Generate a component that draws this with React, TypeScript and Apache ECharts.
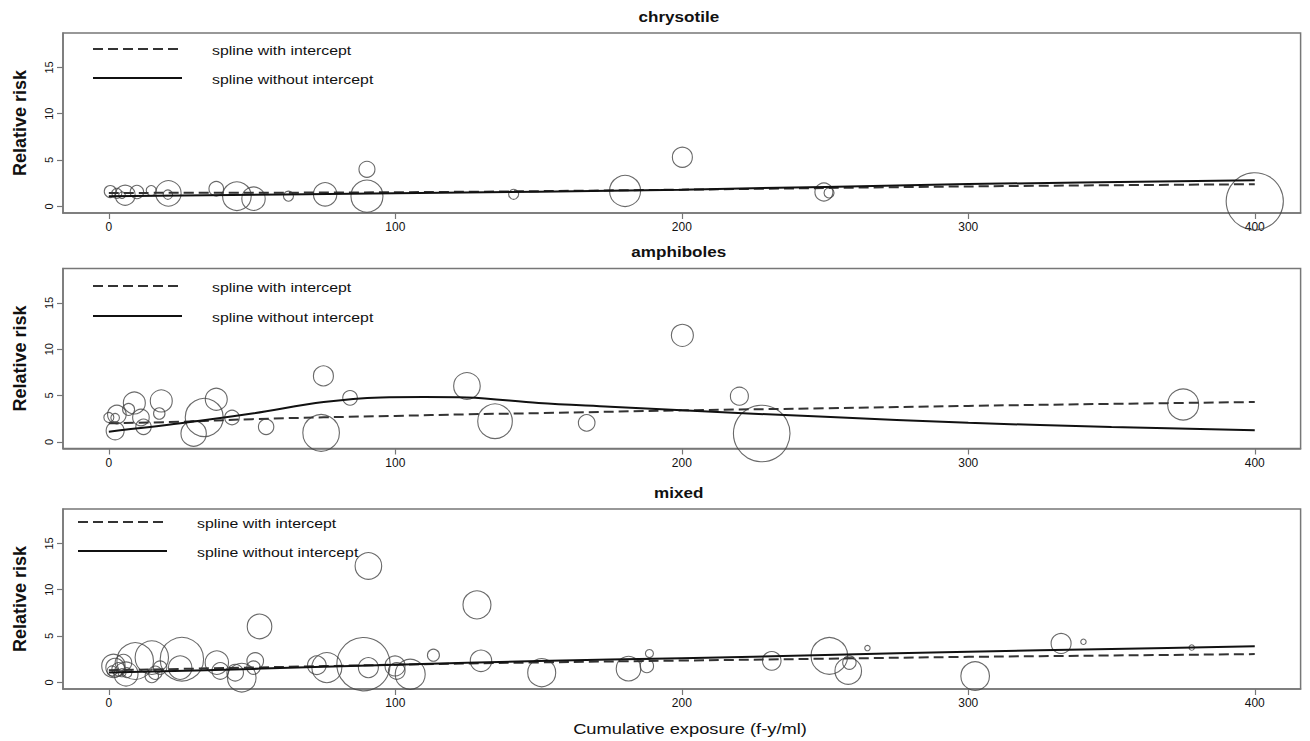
import React, { useEffect, useRef } from "react";
import * as echarts from "echarts";

const panelTitles = ["chrysotile", "amphiboles", "mixed"];
const xTicks = [0, 100, 200, 300, 400];
const yTicks = [0, 5, 10, 15];
const legendLabels = ["spline with intercept", "spline without intercept"];
const xAxisTitle = "Cumulative exposure (f-y/ml)";
const yAxisTitle = "Relative risk";

// study bubbles: [cumulative exposure, relative risk, circle radius (study weight)]
const chrysotileStudies = [
  [0.5, 1.6, 6], [2.8, 1.4, 5], [4.6, 1.2, 3.3], [5.7, 1.2, 10], [9.8, 1.55, 6.7],
  [14.8, 1.7, 5], [20.8, 1.4, 12.7], [20.6, 1.27, 4.7], [37.5, 1.9, 7.3], [44.7, 1.1, 14.3],
  [50.5, 0.83, 11.7], [62.7, 1.1, 5], [75.5, 1.3, 11.7], [90.1, 4.0, 8], [90.1, 1.1, 16],
  [141.3, 1.3, 5], [180.2, 1.66, 15.5], [200.2, 5.3, 10], [249.6, 1.55, 9], [251.4, 1.45, 5],
  [400, 0.54, 28.6],
];
const amphiboleStudies = [
  [0, 2.63, 5], [2.8, 2.95, 9.3], [2.2, 2.6, 4.3], [2.2, 1.19, 9], [6.9, 3.5, 6],
  [8.9, 4.2, 11], [11.2, 2.63, 8.3], [12.1, 1.62, 7.7], [17.6, 3.06, 5.7], [18.3, 4.42, 11],
  [29.6, 0.9, 12.7], [33.3, 2.63, 19], [37.5, 4.6, 11], [43, 2.63, 7.3], [54.9, 1.62, 7.7],
  [74.1, 0.97, 18.3], [74.9, 7.12, 10], [84.2, 4.75, 7.3], [125, 6.04, 13.3], [134.8, 2.23, 17.3],
  [166.8, 2.05, 8.3], [200.2, 11.5, 11], [220.1, 4.93, 9], [227.9, 0.9, 28.3], [375, 4.03, 15.5],
];
const mixedStudies = [
  [1.6, 1.77, 11.7], [2.2, 1.59, 9.3], [1.1, 1.23, 5], [3.4, 1.41, 6.7], [4.6, 1.04, 4],
  [5.1, 2.13, 8.3], [6.3, 1.04, 5], [6, 0.9, 12], [9.2, 2.3, 18.3], [15.0, 2.67, 16.7],
  [16.2, 1.04, 6.7], [17.9, 1.59, 6.7], [15, 0.68, 6.7], [25.5, 2.5, 21.7], [24.9, 1.59, 11.7],
  [37.7, 2.13, 11.7], [38.9, 1.23, 8.3], [44.1, 1.04, 8.3], [46.4, 0.5, 14.3], [51.1, 2.3, 8.3],
  [50.5, 1.59, 6.7], [52.6, 6.04, 12.3], [72.6, 1.85, 9.3], [76.1, 1.59, 15], [88.9, 1.96, 26.7],
  [90.6, 1.59, 10], [90.6, 12.57, 13.3], [99.9, 1.77, 10], [100.5, 1.23, 8.3], [105.2, 0.87, 15],
  [113.3, 2.93, 6], [128.5, 8.37, 14], [129.9, 2.32, 10.7], [151.1, 1.04, 14], [181.4, 1.48, 12.3],
  [187.8, 1.77, 6.7], [188.7, 3.11, 4], [231.4, 2.32, 9.3], [251.5, 2.86, 18.3], [258.1, 1.23, 13.3],
  [258.5, 2.13, 6.7], [264.8, 3.7, 2.7], [302.4, 0.68, 14.3], [332.4, 4.2, 10], [340.2, 4.38, 2.7],
  [378, 3.76, 2.7],
];

// spline fits: [cumulative exposure, relative risk]
const chrysotileWithIntercept = [[0, 1.45], [100, 1.52], [200, 1.8], [300, 2.15], [400, 2.39]];
const chrysotileWithoutIntercept = [[0, 1.1], [100, 1.4], [200, 1.8], [300, 2.4], [400, 2.83]];
const amphiboleWithIntercept = [
  [0, 2.0], [25, 2.17], [50, 2.45], [75, 2.65], [100, 2.8], [125, 2.97], [150, 3.1],
  [200, 3.4], [250, 3.62], [300, 3.88], [350, 4.1], [400, 4.3],
];
const amphiboleWithoutIntercept = [
  [0, 1.1], [25, 2.0], [50, 3.05], [75, 4.3], [95, 4.8], [110, 4.85], [125, 4.8], [150, 4.2],
  [175, 3.8], [200, 3.4], [250, 2.7], [300, 2.05], [350, 1.6], [400, 1.26],
];
const mixedWithIntercept = [
  [0, 1.3], [50, 1.6], [100, 1.9], [150, 2.15], [200, 2.35], [250, 2.55], [300, 2.75], [350, 2.9], [400, 3.05],
];
const mixedWithoutIntercept = [
  [0, 1.05], [50, 1.45], [100, 1.9], [150, 2.3], [200, 2.6], [250, 2.95], [300, 3.3], [350, 3.6], [400, 3.9],
];

const studies = [chrysotileStudies, amphiboleStudies, mixedStudies];
const withIntercept = [chrysotileWithIntercept, amphiboleWithIntercept, mixedWithIntercept];
const withoutIntercept = [chrysotileWithoutIntercept, amphiboleWithoutIntercept, mixedWithoutIntercept];

const FONT = '"Liberation Sans", Arial, Helvetica, sans-serif';
const W = 1310;
const H = 741;
const GRID_LEFT = 63;
const GRID_WIDTH = 1237.6;
const GRID_HEIGHT = 180;
const panelTops = [33, 268.5, 509];
const legendLineX = [93, 93, 78];
const legendTextX = [212, 212, 197];
const legendDashY = [49, 286, 522];
const legendSolidY = [78, 316, 551];
const STRETCH = 1.22;
const FRAME = "#777";

export default function App() {
  const ref = useRef<HTMLDivElement>(null);

  useEffect(() => {
    if (!ref.current) return;
    const chart = echarts.init(ref.current, null, { renderer: "svg" });

    const grids = panelTops.map((top) => ({
      left: GRID_LEFT,
      top,
      width: GRID_WIDTH,
      height: GRID_HEIGHT,
      show: true,
      borderColor: FRAME,
      borderWidth: 1.5,
      backgroundColor: "transparent",
      containLabel: false,
    }));

    const xAxes = panelTops.map((_, i) => ({
      type: "value",
      gridIndex: i,
      position: "bottom",
      min: -16,
      max: 416,
      axisLine: { show: true, onZero: false, lineStyle: { color: FRAME, width: 1.5 } },
      splitLine: { show: false },
      axisTick: { show: true, inside: false, length: 6, lineStyle: { color: FRAME, width: 1.2 }, customValues: xTicks },
      axisLabel: { customValues: xTicks, fontSize: 12, margin: 8, color: "#111", fontFamily: FONT },
    }));

    const yAxes = panelTops.map((_, i) => ({
      type: "value",
      gridIndex: i,
      position: "left",
      min: -0.72,
      max: 18.72,
      name: yAxisTitle,
      nameLocation: "middle",
      nameGap: 34,
      nameTextStyle: { fontSize: 18, fontWeight: "bold", color: "#111", fontFamily: FONT },
      axisLine: { show: true, onZero: false, lineStyle: { color: FRAME, width: 1.5 } },
      splitLine: { show: false },
      axisTick: { show: true, inside: false, length: 6, lineStyle: { color: FRAME, width: 1.2 }, customValues: yTicks },
      axisLabel: { customValues: yTicks, rotate: 90, fontSize: 11, margin: 9, color: "#111", fontFamily: FONT },
    }));

    const series: any[] = [];
    panelTops.forEach((_, i) => {
      series.push({
        type: "scatter",
        name: panelTitles[i] + " studies",
        xAxisIndex: i,
        yAxisIndex: i,
        data: studies[i],
        symbol: "circle",
        symbolSize: (v: number[]) => v[2] * 2,
        itemStyle: { color: "rgba(0,0,0,0)", borderColor: "#444", borderWidth: 1.1 },
        clip: false,
        silent: true,
        z: 2,
      });
      series.push({
        type: "line",
        name: legendLabels[0],
        xAxisIndex: i,
        yAxisIndex: i,
        data: withIntercept[i],
        smooth: 0.35,
        showSymbol: false,
        symbol: "none",
        lineStyle: { color: "#333", width: 2, type: [10, 5] },
        silent: true,
        z: 3,
      });
      series.push({
        type: "line",
        name: legendLabels[1],
        xAxisIndex: i,
        yAxisIndex: i,
        data: withoutIntercept[i],
        smooth: 0.35,
        showSymbol: false,
        symbol: "none",
        lineStyle: { color: "#111", width: 2 },
        silent: true,
        z: 4,
      });
    });

    const graphics: any[] = [];
    panelTops.forEach((top, i) => {
      graphics.push({
        type: "text",
        x: GRID_LEFT + GRID_WIDTH / 2 - 3,
        y: top - 16,
        scaleX: STRETCH,
        style: {
          text: panelTitles[i],
          font: `bold 14px ${FONT}`,
          fill: "#111",
          textAlign: "center",
          textVerticalAlign: "middle",
          align: "center",
          verticalAlign: "middle",
        },
      });
      graphics.push({
        type: "line",
        shape: { x1: legendLineX[i], y1: legendDashY[i], x2: legendLineX[i] + 89, y2: legendDashY[i] },
        style: { stroke: "#333", lineWidth: 2, lineDash: [10, 5] },
      });
      graphics.push({
        type: "line",
        shape: { x1: legendLineX[i], y1: legendSolidY[i], x2: legendLineX[i] + 89, y2: legendSolidY[i] },
        style: { stroke: "#111", lineWidth: 2 },
      });
      [legendDashY[i], legendSolidY[i]].forEach((ly, k) => {
        graphics.push({
          type: "text",
          x: legendTextX[i],
          y: ly + 1.5,
          scaleX: STRETCH,
          style: {
            text: legendLabels[k],
            font: `13px ${FONT}`,
            fill: "#111",
            textAlign: "left",
            textVerticalAlign: "middle",
            align: "left",
            verticalAlign: "middle",
          },
        });
      });
    });
    graphics.push({
      type: "text",
      x: 690,
      y: 729,
      scaleX: STRETCH,
      style: {
        text: xAxisTitle,
        font: `15px ${FONT}`,
        fill: "#111",
        textAlign: "center",
        textVerticalAlign: "middle",
        align: "center",
        verticalAlign: "middle",
      },
    });

    chart.setOption({
      animation: false,
      backgroundColor: "#fff",
      textStyle: { fontFamily: FONT },
      grid: grids,
      xAxis: xAxes,
      yAxis: yAxes,
      series,
      graphic: { elements: graphics },
    });

    return () => chart.dispose();
  }, []);

  return (
    <div
      ref={ref}
      style={{ position: "fixed", left: 0, top: 0, width: W, height: H, background: "#fff" }}
    />
  );
}
